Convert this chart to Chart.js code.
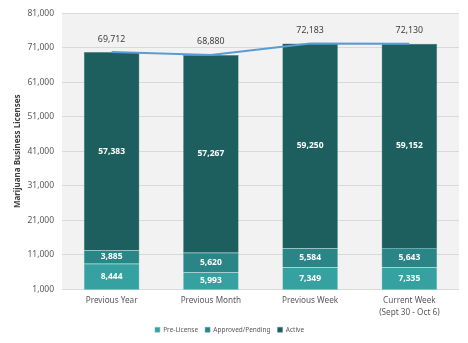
<!DOCTYPE html>
<html>
<head>
<meta charset="utf-8">
<script src="https://cdn.jsdelivr.net/npm/chart.js@4"></script>
<style>
  html, body { margin: 0; padding: 0; background: #fff; }
  #wrap { width: 468px; height: 343px; }
</style>
</head>
<body>
<div id="wrap"><canvas id="licChart" width="468" height="343"></canvas></div>
<script>
const categories = ['Previous Year', 'Previous Month', 'Previous Week', ['Current Week', '(Sept 30 - Oct 6)']];
const preLicense = [8444, 5993, 7349, 7335];
const approvedPending = [3885, 5620, 5584, 5643];
const active = [57383, 57267, 59250, 59152];
const totals = [69712, 68880, 72183, 72130];
const yTicks = [1000, 11000, 21000, 31000, 41000, 51000, 61000, 71000, 81000];

const fontFam = '"Noto Sans", "Open Sans", sans-serif';

// grey plot background
const plotBg = {
  id: 'plotBg',
  beforeDraw(chart) {
    const { ctx, chartArea: a } = chart;
    ctx.save();
    ctx.fillStyle = '#f2f2f2';
    ctx.fillRect(a.left, a.top, a.right - a.left, a.bottom - a.top);
    ctx.restore();
  }
};

// value labels inside bars and above the total line
const valueLabels = {
  id: 'valueLabels',
  afterDatasetsDraw(chart) {
    const ctx = chart.ctx;
    ctx.save();
    ctx.textAlign = 'center';
    ctx.textBaseline = 'middle';
    chart.data.datasets.forEach((ds, i) => {
      const meta = chart.getDatasetMeta(i);
      meta.data.forEach((el, j) => {
        const txt = ds.data[j].toLocaleString('en-US');
        if (ds.type === 'line') {
          ctx.font = '8.8px ' + fontFam;
          ctx.fillStyle = '#404040';
          ctx.fillText(txt, el.x, el.y - 13);
        } else {
          const top = el.y, bottom = Math.min(el.base, chart.chartArea.bottom);
          ctx.font = 'bold 8.5px ' + fontFam;
          ctx.fillStyle = '#ffffff';
          ctx.fillText(txt, el.x, (top + bottom) / 2);
        }
      });
    });
    ctx.restore();
  }
};

new Chart(document.getElementById('licChart'), {
  data: {
    labels: categories,
    datasets: [
      {
        type: 'line',
        label: 'Total',
        data: totals,
        borderColor: '#5b9bd5',
        borderWidth: 2,
        pointRadius: 0,
        tension: 0,
        stack: 'total',
        order: 0
      },
      {
        type: 'bar',
        label: 'Pre-License',
        data: preLicense,
        backgroundColor: '#35a2a1',
        borderColor: '#7cc6c4',
        borderWidth: 0.5,
        stack: 'lic',
        order: 1
      },
      {
        type: 'bar',
        label: 'Approved/Pending',
        data: approvedPending,
        backgroundColor: '#2a8586',
        borderColor: '#5aa9a9',
        borderWidth: 0.5,
        stack: 'lic',
        order: 1
      },
      {
        type: 'bar',
        label: 'Active',
        data: active,
        backgroundColor: '#1c5f5e',
        borderColor: '#4d8b8a',
        borderWidth: 0.5,
        stack: 'lic',
        order: 1
      }
    ]
  },
  options: {
    responsive: false,
    animation: false,
    layout: { padding: { left: 0, right: 9, top: 11, bottom: 0 } },
    datasets: { bar: { barPercentage: 0.56, categoryPercentage: 1 } },
    scales: {
      x: {
        stacked: true,
        grid: { display: false, drawTicks: false, tickLength: 0 },
        border: { display: false },
        afterFit(scale) { scale.height = 30; },
        ticks: { color: '#595959', font: { family: fontFam, size: 8.2, lineHeight: 1.45 }, padding: 5, maxRotation: 0 }
      },
      y: {
        stacked: true,
        min: 1000,
        max: 81000,
        afterBuildTicks(axis) { axis.ticks = yTicks.map(v => ({ value: v })); },
        afterFit(scale) { scale.width = 62; },
        grid: { color: '#d9d9d9', drawTicks: false },
        border: { display: false },
        ticks: { color: '#595959', font: { family: fontFam, size: 8.5 }, padding: 8 },
        title: {
          display: true,
          text: 'Marijuana Business Licenses',
          color: '#404040',
          font: { family: fontFam, size: 8, weight: 'bold' },
          padding: { top: 13, bottom: 0 }
        }
      }
    },
    plugins: {
      legend: {
        position: 'bottom',
        labels: {
          filter: item => item.text !== 'Total',
          boxWidth: 5,
          boxHeight: 5,
          color: '#595959',
          padding: 7,
          font: { family: fontFam, size: 6.5 }
        }
      },
      tooltip: { enabled: false }
    }
  },
  plugins: [plotBg, valueLabels]
});
</script>
</body>
</html>
